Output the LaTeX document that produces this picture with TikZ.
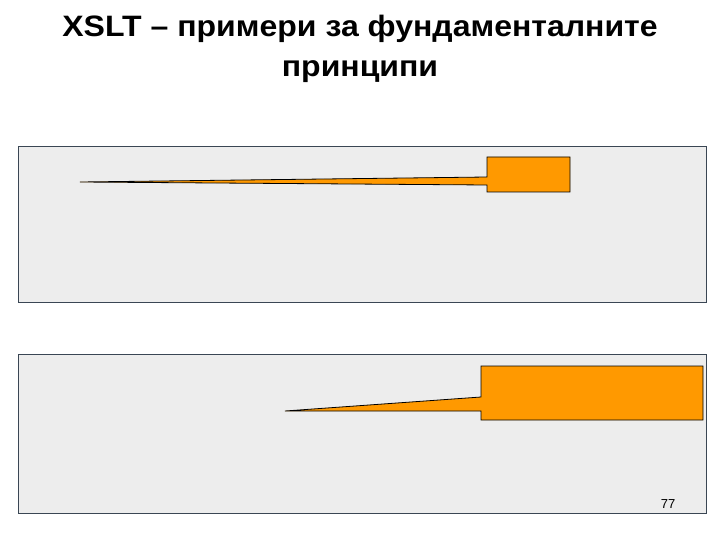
\documentclass[tikz,border=0pt]{standalone}
\usepackage{fontspec}
\setmainfont{Liberation Sans}
\begin{document}
\begin{tikzpicture}[x=1pt,y=-1pt,
  panel/.style={draw=panelline,fill=panelfill,line width=0.8pt},
  callout/.style={draw=black,fill=calloutfill,line width=0.8pt,line join=miter},
  titletext/.style={font=\fontsize{29.5}{36}\selectfont\bfseries,inner sep=0pt,anchor=base}]
\definecolor{panelfill}{HTML}{EDEDED}
\definecolor{panelline}{HTML}{3A4654}
\definecolor{calloutfill}{HTML}{FF9900}
\useasboundingbox (0,0) rectangle (720,540);
\fill[white] (0,0) rectangle (720,540);
\node[titletext] (t1) at (360,36.5) {\scalebox{1.085}[1]{XSLT – примери за фундаменталните}};
\node[titletext] (t2) at (360,76.5) {\scalebox{1.085}[1]{принципи}};
% panels
\draw[panel] (18,146) rectangle (706,302);
\draw[panel] (18,354) rectangle (706,513);
% top callout
\coordinate (tip1) at (80,182);
\draw[callout] (tip1) -- (487,177) -- (487,157) -- (570,157) -- (570,192) -- (487,192) -- (487,185) -- cycle;
% bottom callout
\coordinate (tip2) at (285,411);
\draw[callout] (tip2) -- (481,397) -- (481,366) -- (703,366) -- (703,420) -- (481,420) -- (481,411) -- cycle;
\node[font=\fontsize{13}{15}\selectfont,inner sep=0pt] (pg) at (668,504) {77};
\end{tikzpicture}
\end{document}
